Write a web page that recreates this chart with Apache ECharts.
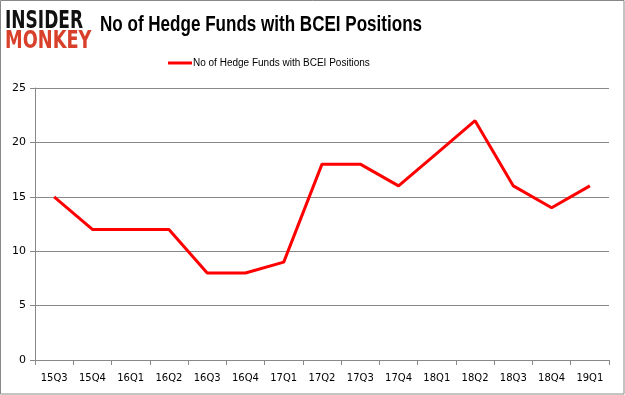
<!DOCTYPE html>
<html><head><meta charset="utf-8">
<script src="https://cdn.jsdelivr.net/npm/echarts@6/dist/echarts.min.js"></script>
<style>html,body{margin:0;padding:0;background:#fff}#c{width:625px;height:395px}</style>
</head><body><div id="c"></div>
<script>
var categories = ['15Q3','15Q4','16Q1','16Q2','16Q3','16Q4','17Q1','17Q2','17Q3','17Q4','18Q1','18Q2','18Q3','18Q4','19Q1'];
var funds = [15,12,12,12,8,8,9,18,18,16,19,22,16,14,16];
var yTicks = [0,5,10,15,20,25];
var seriesName = 'No of Hedge Funds with BCEI Positions';
var titleText = 'No of Hedge Funds with BCEI Positions';

var chart = echarts.init(document.getElementById('c'));
chart.setOption({
  animation: false,
  legend: {
    data: [seriesName], top: 53, left: 163, itemWidth: 24, itemHeight: 3, itemGap: 2,
    icon: 'rect', padding: 5,
    textStyle: {fontFamily: 'Liberation Sans', fontSize: 10, color: '#000', padding: [0,0,0,-4]}
  },
  graphic: [
    {type: 'rect', shape: {x: 0.5, y: 0.5, width: 623.5, height: 393.5}, style: {fill: 'none', stroke: '#888', lineWidth: 1}},
    {type: 'text', x: 5, y: 10, scaleX: 0.71, style: {text: 'INSIDER', fill: '#111', font: 'bold 24px "DejaVu Sans"', textVerticalAlign: 'top'}},
    {type: 'text', x: 5, y: 30, scaleX: 0.74, style: {text: 'MONKEY', fill: '#d9402b', font: 'bold 24px "DejaVu Sans"', textVerticalAlign: 'top'}},
    {type: 'text', x: 100, y: 14, scaleX: 0.775, style: {text: titleText, fill: '#000', font: 'bold 22px "Liberation Sans"', textVerticalAlign: 'top'}}
  ],
  grid: {left: 35, right: 16, top: 88, bottom: 35, containLabel: false},
  xAxis: {
    type: 'category', data: categories, boundaryGap: true,
    axisLine: {lineStyle: {color: '#888'}},
    axisTick: {show: true, alignWithLabel: false, lineStyle: {color: '#888'}, length: 5},
    axisLabel: {color: '#000', fontFamily: 'DejaVu Sans', fontSize: 10, margin: 13, interval: 0}
  },
  yAxis: {
    type: 'value', min: 0, max: 25, interval: 5,
    axisLine: {show: true, lineStyle: {color: '#888'}},
    axisTick: {show: true, lineStyle: {color: '#888'}, length: 5},
    splitLine: {lineStyle: {color: '#888'}},
    axisLabel: {color: '#000', fontFamily: 'DejaVu Sans', fontSize: 11, margin: 9,
      formatter: function(v){ return yTicks.indexOf(v) >= 0 ? String(v) : ''; }}
  },
  series: [{
    name: seriesName, type: 'line', data: funds, symbol: 'none',
    lineStyle: {color: '#ff0000', width: 3}, itemStyle: {color: '#ff0000'}
  }]
});
</script></body></html>
